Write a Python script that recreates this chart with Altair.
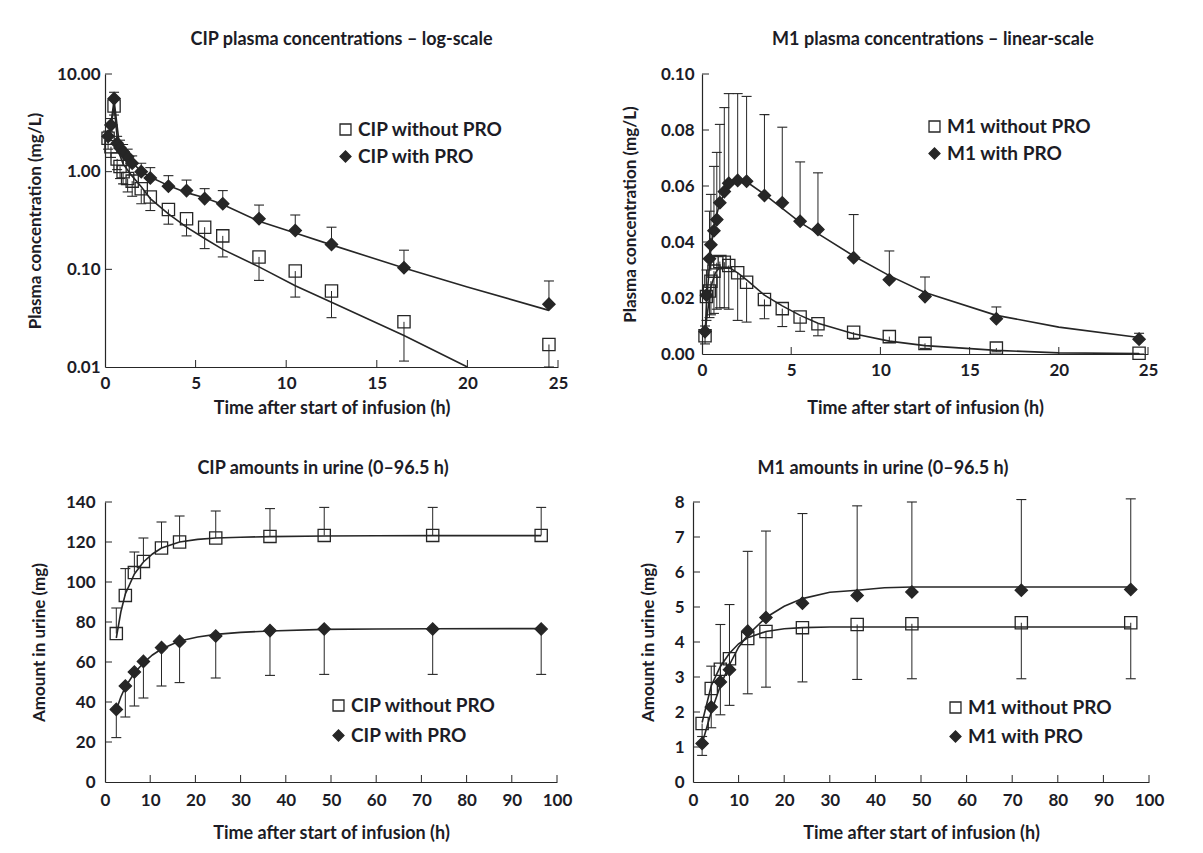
import altair as alt
import pandas as pd

FONT = "Lato"
INK = "#262626"
TXT = "#1c1c26"

# ---------------- Panel A: CIP plasma concentrations (log) ----------------
cip_t = [0.17, 0.33, 0.5, 0.67, 0.83, 1.0, 1.25, 1.5, 2.0, 2.5, 3.5, 4.5, 5.5, 6.5, 8.5, 10.5, 12.5, 16.5, 24.5]
cip_with = [2.3, 3.0, 5.6, 1.95, 1.75, 1.6, 1.42, 1.22, 1.0, 0.86, 0.71, 0.64, 0.53, 0.47, 0.33, 0.25, 0.18, 0.104, 0.044]
cip_with_up = [2.6, 3.5, 6.5, 2.3, 2.1, 1.9, 1.7, 1.45, 1.22, 1.1, 0.91, 0.82, 0.67, 0.64, 0.455, 0.36, 0.27, 0.157, 0.076]
cip_without = [2.2, 1.8, 4.7, 1.35, 1.13, 1.0, 0.85, 0.8, 0.67, 0.55, 0.41, 0.33, 0.27, 0.22, 0.134, 0.096, 0.06, 0.029, 0.017]
cip_without_lo = [1.7, 1.4, 3.8, 1.05, 0.85, 0.75, 0.62, 0.56, 0.47, 0.40, 0.29, 0.22, 0.163, 0.134, 0.077, 0.052, 0.032, 0.0115, 0.01]
cip_fit_with_t = [0.17, 0.33, 0.5, 0.75, 1.0, 1.25, 1.5, 2.0, 2.5, 3.5, 4.5, 5.5, 6.5, 8.5, 10.5, 12.5, 16.5, 20.0, 24.5]
cip_fit_with = [2.3, 3.1, 5.4, 2.2, 1.7, 1.45, 1.25, 1.0, 0.88, 0.72, 0.61, 0.54, 0.46, 0.31, 0.235, 0.178, 0.103, 0.066, 0.038]
cip_fit_without_t = [0.17, 0.33, 0.5, 0.75, 1.0, 1.5, 2.0, 2.5, 3.5, 4.5, 5.5, 6.5, 8.5, 10.5, 12.5, 16.5, 20.0]
cip_fit_without = [2.2, 2.9, 4.7, 1.6, 1.2, 0.9, 0.7, 0.53, 0.37, 0.27, 0.207, 0.16, 0.106, 0.068, 0.046, 0.021, 0.01]

# ---------------- Panel B: M1 plasma concentrations (linear) ----------------
m1p_t = [0.17, 0.25, 0.42, 0.5, 0.67, 0.83, 1.0, 1.25, 1.5, 2.0, 2.5, 3.5, 4.5, 5.5, 6.5, 8.5, 10.5, 12.5, 16.5, 24.5]
m1p_with = [0.008, 0.021, 0.034, 0.039, 0.044, 0.048, 0.054, 0.058, 0.061, 0.062, 0.0617, 0.0566, 0.054, 0.0474, 0.0445, 0.0344, 0.0265, 0.0205, 0.0126, 0.0053]
m1p_with_up = [0.010, 0.030, 0.051, 0.057, 0.067, 0.072, 0.082, 0.088, 0.093, 0.093, 0.092, 0.0855, 0.081, 0.0686, 0.0647, 0.0498, 0.0368, 0.0275, 0.0168, 0.0074]
m1p_without = [0.0065, 0.0205, 0.0225, 0.026, 0.0296, 0.0326, 0.033, 0.0328, 0.0316, 0.029, 0.0256, 0.0195, 0.0162, 0.0132, 0.0108, 0.0078, 0.0062, 0.0038, 0.0021, 0.0003]
m1p_without_lo = [0.0036, 0.012, 0.013, 0.014, 0.0145, 0.016, 0.0165, 0.0165, 0.016, 0.012, 0.0114, 0.0126, 0.0098, 0.0081, 0.0065, 0.0053, 0.0041, 0.002, 0.0008, 0.0]
m1p_fit_t = [0.17, 0.25, 0.5, 0.75, 1.0, 1.5, 2.0, 2.5, 3.5, 4.5, 5.5, 6.5, 8.5, 10.5, 12.5, 16.5, 20.0, 24.5]
m1p_fit_with = [0.006, 0.018, 0.038, 0.048, 0.054, 0.0605, 0.0622, 0.0615, 0.057, 0.052, 0.047, 0.043, 0.035, 0.028, 0.022, 0.0138, 0.0096, 0.0059]
m1p_fit_without = [0.006, 0.012, 0.024, 0.029, 0.031, 0.031, 0.029, 0.0265, 0.021, 0.0172, 0.0138, 0.011, 0.0072, 0.0046, 0.003, 0.0013, 0.0004, 0.0002]

# ---------------- Panel C: CIP amounts in urine ----------------
cu_t = [2.5, 4.5, 6.5, 8.5, 12.5, 16.5, 24.5, 36.5, 48.5, 72.5, 96.5]
cu_without = [74.2, 93.3, 104.7, 110.3, 117.0, 120.0, 122.0, 122.8, 123.3, 123.3, 123.3]
cu_without_up = [87.0, 106.7, 115.0, 122.0, 130.0, 133.0, 135.5, 136.7, 137.3, 137.3, 137.3]
cu_with = [36.3, 48.0, 55.0, 60.3, 67.2, 70.3, 73.0, 75.7, 76.5, 76.5, 76.5]
cu_with_lo = [22.2, 32.5, 38.0, 42.0, 48.0, 49.7, 52.0, 53.3, 53.8, 53.8, 53.8]
cu_fit_t = [2.5, 3.5, 4.5, 6.5, 8.5, 10.5, 12.5, 16.5, 20.5, 24.5, 30.0, 36.5, 48.5, 60.0, 72.5, 96.5]
cu_fit_without = [72.0, 85.0, 94.0, 104.0, 110.0, 114.0, 117.0, 120.0, 121.3, 122.0, 122.4, 122.7, 123.0, 123.1, 123.2, 123.2]
cu_fit_with = [36.0, 42.5, 47.5, 54.5, 59.5, 63.5, 66.5, 70.5, 72.5, 73.8, 74.8, 75.5, 76.3, 76.5, 76.6, 76.7]

# ---------------- Panel D: M1 amounts in urine ----------------
mu_t = [2, 4, 6, 8, 12, 16, 24, 36, 48, 72, 96]
mu_without = [1.67, 2.67, 3.22, 3.52, 4.1, 4.3, 4.41, 4.5, 4.52, 4.55, 4.55]
mu_without_lo = [0.76, 1.55, 1.92, 2.19, 2.52, 2.71, 2.86, 2.93, 2.95, 2.95, 2.95]
mu_with = [1.1, 2.14, 2.86, 3.21, 4.31, 4.7, 5.11, 5.33, 5.43, 5.48, 5.5]
mu_with_up = [1.3, 3.31, 4.5, 5.07, 6.59, 7.17, 7.67, 7.89, 8.0, 8.07, 8.09]
mu_fit_t = [2, 4, 6, 8, 10, 12, 16, 20, 24, 30, 36, 42, 48, 72, 96]
mu_fit_without = [1.7, 2.75, 3.3, 3.68, 3.95, 4.12, 4.3, 4.38, 4.41, 4.43, 4.43, 4.43, 4.43, 4.43, 4.43]
mu_fit_with = [1.1, 2.0, 2.75, 3.35, 3.85, 4.2, 4.7, 5.02, 5.24, 5.42, 5.48, 5.55, 5.57, 5.57, 5.57]

# tick values
x_ticks_plasma = [0, 5, 10, 15, 20, 25]
x_ticks_urine = [0, 10, 20, 30, 40, 50, 60, 70, 80, 90, 100]
y_ticks_cip_plasma = [0.01, 0.1, 1, 10]
y_ticks_m1_plasma = [0, 0.02, 0.04, 0.06, 0.08, 0.1]
y_ticks_cip_urine = [0.0, 20.0, 40.0, 60.0, 80.0, 100.0, 120.0, 140.0]
y_ticks_m1_urine = [0.0, 1.0, 2.0, 3.0, 4.0, 5.0, 6.0, 7.0, 8.0]


def panel(names, t, a_vals, a_cap, b_vals, b_cap, fa_t, fa, fb_t, fb,
          xdom, ydom, ytype, xticks, yticks, yfmt, ytitle, title, title_dx, title_off,
          w, h, leg_x, leg_y, leg_row, ylabpad, ytitpad, xlabpad, xtitpad):
    pts = pd.DataFrame({
        "t": list(t) + list(t),
        "v": list(a_vals) + list(b_vals),
        "cap": list(a_cap) + list(b_cap),
        "series": [names[0]] * len(t) + [names[1]] * len(t),
    })
    fits = pd.DataFrame({
        "t": list(fa_t) + list(fb_t),
        "v": list(fa) + list(fb),
        "series": [names[0]] * len(fa_t) + [names[1]] * len(fb_t),
    })
    xs = alt.Scale(domain=xdom, nice=False, zero=False)
    if ytype == "log":
        ys = alt.Scale(type="log", domain=ydom, nice=False)
    else:
        ys = alt.Scale(domain=ydom, nice=False, zero=False)

    xaxis = alt.Axis(values=xticks, title="Time after start of infusion (h)",
                     labelPadding=xlabpad, titlePadding=xtitpad, labelOverlap=False,
                     titleFontSize=18)
    yaxis = alt.Axis(values=yticks, format=yfmt, title=ytitle, labelOverlap=False,
                     labelPadding=ylabpad, titlePadding=ytitpad, titleFontSize=17,
                     labelSeparation=0)

    lines = alt.Chart(fits).mark_line(color=INK, strokeWidth=1.6).encode(
        x=alt.X("t:Q", scale=xs, axis=xaxis),
        y=alt.Y("v:Q", scale=ys, axis=yaxis),
        detail="series:N",
    )
    rules = alt.Chart(pts).mark_rule(color=INK, strokeWidth=1).encode(
        x=alt.X("t:Q", scale=xs, axis=xaxis),
        y=alt.Y("v:Q", scale=ys, axis=yaxis),
        y2="cap:Q",
    )
    caps = alt.Chart(pts).mark_tick(orient="horizontal", color=INK, size=10,
                                    thickness=1.1, opacity=1).encode(
        x=alt.X("t:Q", scale=xs, axis=xaxis),
        y=alt.Y("cap:Q", scale=ys, axis=yaxis),
    )
    leg = alt.Legend(title=None, orient="none", legendX=leg_x, legendY=leg_y,
                     rowPadding=leg_row)
    points = alt.Chart(pts).mark_point(size=150, strokeWidth=1.3,
                                       opacity=1, fillOpacity=1).encode(
        x=alt.X("t:Q", scale=xs, axis=xaxis),
        y=alt.Y("v:Q", scale=ys, axis=yaxis),
        shape=alt.Shape("series:N", scale=alt.Scale(domain=names, range=["square", "diamond"]), legend=leg),
        fill=alt.Fill("series:N", scale=alt.Scale(domain=names, range=["transparent", INK]), legend=leg),
        stroke=alt.Stroke("series:N", scale=alt.Scale(domain=names, range=[INK, INK]), legend=leg),
    )
    xt = pd.DataFrame({"t": [v for v in xticks if v != xdom[0]]})
    yt = pd.DataFrame({"v": [v for v in yticks if v != ydom[0]]})
    xtick_marks = alt.Chart(xt).mark_rule(color=INK, strokeWidth=1).encode(
        x=alt.X("t:Q", scale=xs, axis=xaxis), y=alt.value(h), y2=alt.value(h - 7))
    ytick_marks = alt.Chart(yt).mark_rule(color=INK, strokeWidth=1).encode(
        y=alt.Y("v:Q", scale=ys, axis=yaxis), x=alt.value(0), x2=alt.value(7))

    return alt.layer(lines, rules, caps, points, xtick_marks, ytick_marks).properties(
        width=w, height=h,
        title=alt.TitleParams(title, font=FONT, fontSize=18, fontWeight="bold",
                              color=TXT, offset=title_off, anchor="middle", dx=title_dx),
    )


A = panel(["CIP without PRO", "CIP with PRO"], cip_t, cip_without, cip_without_lo,
          cip_with, cip_with_up, cip_fit_without_t, cip_fit_without, cip_fit_with_t, cip_fit_with,
          [0, 25], [0.01, 10], "log", x_ticks_plasma, y_ticks_cip_plasma, ".2f",
          "Plasma concentration (mg/L)", "CIP plasma concentrations – log-scale", 10, 16,
          453, 293, 231, 46, 7, 5, 12, 8, 8)
B = panel(["M1 without PRO", "M1 with PRO"], m1p_t, m1p_without, m1p_without_lo,
          m1p_with, m1p_with_up, m1p_fit_t, m1p_fit_without, m1p_fit_t, m1p_fit_with,
          [0, 25], [0, 0.1], "linear", x_ticks_plasma, y_ticks_m1_plasma, ".2f",
          "Plasma concentration (mg/L)", "M1 plasma concentrations – linear-scale", 8, 16,
          446, 280, 223, 43, 7, 8, 21, 8, 21)
C = panel(["CIP without PRO", "CIP with PRO"], cu_t, cu_without, cu_without_up,
          cu_with, cu_with_lo, cu_fit_t, cu_fit_without, cu_fit_t, cu_fit_with,
          [0, 100], [0, 140], "linear", x_ticks_urine, y_ticks_cip_urine, "d",
          "Amount in urine (mg)", "CIP amounts in urine (0–96.5 h)", -8, 15,
          452, 280, 224, 194, 10, 10, 17, 10, 16)
D = panel(["M1 without PRO", "M1 with PRO"], mu_t, mu_without, mu_without_lo,
          mu_with, mu_with_up, mu_fit_t, mu_fit_without, mu_fit_t, mu_fit_with,
          [0, 100], [0, 8], "linear", x_ticks_urine, y_ticks_m1_urine, ".0f",
          "Amount in urine (mg)", "M1 amounts in urine (0–96.5 h)", -38, 15,
          456, 280, 253, 196, 9, 9, 17, 10, 16)

RES = dict(shape="independent", fill="independent", stroke="independent")
row1 = alt.hconcat(A, B, spacing=144, bounds="flush").resolve_scale(**RES)
row2 = alt.hconcat(C, D, spacing=136, bounds="flush").resolve_scale(**RES)

chart = alt.vconcat(row1, row2, spacing=43).resolve_scale(**RES).properties(
    padding={"left": 26, "top": 31, "right": 10, "bottom": 10},
    background="white",
).configure_view(stroke=None).configure_axis(
    grid=False, ticks=False, domainColor=INK, domainWidth=1.2,
    labelFont=FONT, labelFontSize=17, labelFontWeight="bold", labelColor=TXT,
    titleFont=FONT, titleFontSize=17, titleFontWeight="bold", titleColor=TXT,
    labelOverlap=False, labelFlush=False,
).configure_legend(
    labelFont=FONT, labelFontSize=19, labelFontWeight="bold", labelColor=TXT,
    symbolSize=120, symbolStrokeWidth=1.3, symbolOpacity=1,
    padding=0, labelOffset=3,
)

chart.save("out.html", embed_options={"renderer": "svg", "actions": False})
